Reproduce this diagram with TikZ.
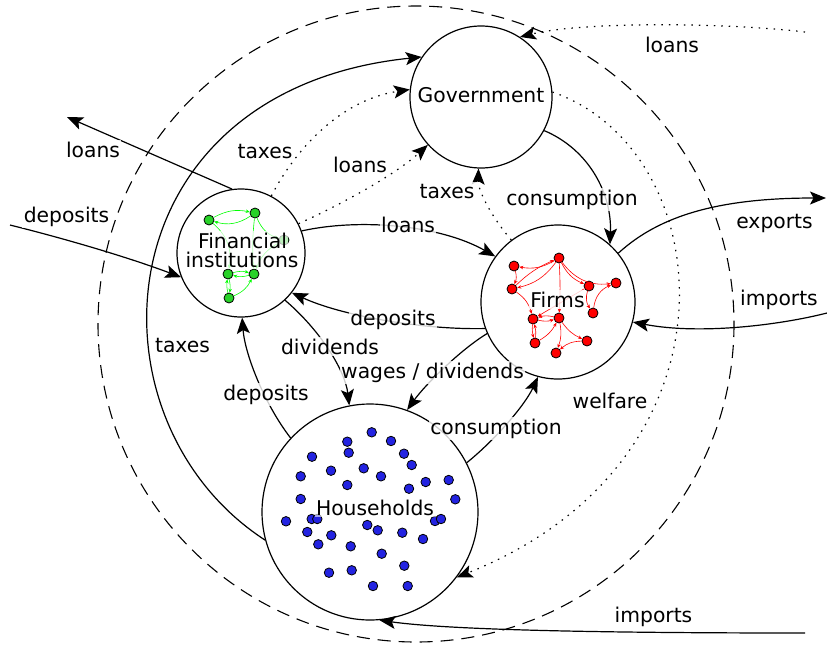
\documentclass[tikz,border=0pt]{standalone}
\usepackage{fontspec}
\setmainfont{DejaVu Sans}
\usetikzlibrary{arrows.meta}
\begin{document}
\begin{tikzpicture}[x=1pt,y=-1pt,
  every node/.style={font=\fontsize{20.3}{19}\selectfont},
  agent/.style={circle,draw,line width=1.2pt,inner sep=0pt,minimum size=#1},
  flow/.style={line width=1.2pt,-{Stealth[length=16pt,width=13pt,inset=3.5pt]}},
  dotflow/.style={flow,dash pattern=on 1.5pt off 6pt},
  lbl/.style={anchor=base,fill=white,fill opacity=0.8,text opacity=1,inner sep=1.5pt},
  hdot/.style={circle,draw=black,line width=0.8pt,fill={rgb,255:red,35;green,35;blue,225},inner sep=0pt,minimum size=9.5pt},
  rdot/.style={circle,draw=black,line width=0.8pt,fill=red,inner sep=0pt,minimum size=10pt},
  gdot/.style={circle,draw=black,line width=0.8pt,fill={rgb,255:red,40;green,210;blue,40},inner sep=0pt,minimum size=10pt},
  redge/.style={red,line width=0.6pt,-{Stealth[length=4pt,width=3.5pt]}},
  gedge/.style={green,line width=0.6pt,-{Stealth[length=4pt,width=3.5pt]}}
]
\useasboundingbox (0,0) rectangle (827,646);

% environment boundary
\draw[line width=1.1pt,dash pattern=on 13pt off 8pt] (416,324) circle[radius=318];

% agents
\node[agent=142pt] (gov) at (481,97) {};
\node[agent=128pt] (fin) at (241,253) {};
\node[agent=154pt] (firms) at (558,302) {};
\node[agent=216pt] (hh) at (370,512) {};

% free ends
\coordinate (loansL) at (67,117);
\coordinate (depL) at (10,225);
\coordinate (exportsE) at (826,198);
\coordinate (importsS) at (827,313);
\coordinate (loansTR) at (805,32);
\coordinate (importsB) at (805,633);

% green network (financial institutions)
\node[gdot] (g1) at (209,220) {};
\node[gdot] (g2) at (255,213) {};
\node[gdot] (g3) at (284,240) {};
\node[gdot] (g5) at (228,274) {};
\node[gdot] (g6) at (254,274) {};
\node[gdot] (g7) at (229,298) {};
\draw[gedge] (g2) to[bend left=25] (g1);
\draw[gedge] (g1) to[bend left=20] (g2);
\draw[gedge] (g2) to[bend right=25] (g3);
\draw[gedge] (g2) to[bend right=5] (g6);
\draw[gedge] (g3) to[bend right=20] (g6);
\draw[gedge] (g1) to[bend left=30] (g5);
\draw[gedge] (g5) to[bend left=15] (g6);
\draw[gedge] (g6) to[bend left=15] (g5);
\draw[gedge] (g7) to[bend left=10] (g5);
\draw[gedge] (g5) to[bend left=10] (g7);
\draw[gedge] (g7) to[bend right=20] (g6);

% red network (firms)
\node[rdot] (r1) at (514,266) {};
\node[rdot] (r2) at (559,258) {};
\node[rdot] (r3) at (512,289) {};
\node[rdot] (r4) at (589,286) {};
\node[rdot] (r5) at (616,283) {};
\node[rdot] (r6) at (593,313) {};
\node[rdot] (r7) at (533,319) {};
\node[rdot] (r8) at (559,318) {};
\node[rdot] (r9) at (535,343) {};
\node[rdot] (r10) at (587,341) {};
\node[rdot] (r11) at (556,353) {};
\draw[redge] (r2) to[bend left=20] (r1);
\draw[redge] (r2) to[bend left=20] (r3);
\draw[redge] (r3) to[bend left=10] (r2);
\draw[redge] (r1) to[bend left=20] (r3);
\draw[redge] (r2) to[bend right=20] (r4);
\draw[redge] (r2) to[bend right=30] (r5);
\draw[redge] (r2) to[bend left=3] (r8);
\draw[redge] (r4) to[bend right=25] (r6);
\draw[redge] (r6) to[bend left=30] (r5);
\draw[redge] (r3) to[bend left=20] (r7);
\draw[redge] (r4) to (r7);
\draw[redge] (r7) to[bend right=15] (r8);
\draw[redge] (r8) to[bend right=15] (r7);
\draw[redge] (r7) to[bend right=10] (r9);
\draw[redge] (r9) to[bend right=10] (r7);
\draw[redge] (r9) to[bend right=15] (r8);
\draw[redge] (r8) to[bend right=15] (r10);
\draw[redge] (r8) to[bend left=15] (r11);
\draw[redge] (r10) to[bend right=20] (r11);

% households
\foreach \p [count=\i] in {(371.7,432.3),(347.3,441.7),(391,441),(348.7,452.7),(404,453.7),(312,456.7),(411.7,465),(331,470.7),(363.7,468.3),(381,476.3),(300.7,476.3),(347.3,485),(409,488.7),(425.7,482),(448.7,480),(300.7,499),(455.3,499.3),(286,521.3),(311.7,519),(317.3,519),(435,521),(441,519),(367.3,525),(377.7,530.3),(402.3,532.7),(423,539),(307.3,532),(331.3,535.3),(318.3,544.3),(350.7,546.3),(381.7,553.7),(404.3,565.7),(329,572.7),(351.7,570.3),(373,586),(407.7,586)}
  \node[hdot] (h\i) at \p {};

% flows
\draw[flow] (fin.98) -- (loansL);
\draw[flow] (depL) .. controls (70,240) and (130,258) .. (fin.202);
\draw[flow] (hh.195) .. controls (80,420) and (100,90) .. (gov.146);
\draw[flow] (gov.332) .. controls (590,150) and (612,195) .. (firms.48);
\draw[flow] (firms.39) .. controls (660,215) and (720,198) .. (exportsE);
\draw[flow] (importsS) .. controls (780,325) and (700,335) .. (firms.345);
\draw[flow] (fin.20) .. controls (360,218) and (440,225) .. (firms.144);
\draw[flow] (firms.200) .. controls (420,330) and (340,315) .. (fin.322);
\draw[flow] (fin.313) .. controls (320,330) and (345,370) .. (hh.101);
\draw[flow] (firms.204) .. controls (460,350) and (425,385) .. (hh.70);
\draw[flow] (hh.27) .. controls (495,440) and (525,405) .. (firms.255);
\draw[flow] (hh.137) .. controls (265,405) and (245,355) .. (fin.271);
\draw[flow] (importsB) .. controls (600,633) and (450,630) .. (hh.275);
\draw[dotflow] (fin.62) .. controls (295,150) and (340,100) .. (gov.174);
\draw[dotflow] (fin.27) .. controls (340,205) and (395,175) .. (gov.222);
\draw[dotflow] (firms.127) .. controls (490,215) and (478,190) .. (gov.268);
\draw[dotflow] (gov.4) .. controls (720,150) and (750,460) .. (hh.323);
\draw[dotflow] (loansTR) .. controls (720,22) and (580,22) .. (gov.57);

% labels
\node[lbl] (tGov) at (481,102) {Government};
\node[lbl,fill opacity=0.7] (tFin1) at (242.5,248) {Financial};
\node[lbl,fill opacity=0.7] (tFin2) at (242,267) {institutions};
\node[lbl] (tFirms) at (557.5,307) {Firms};
\node[lbl,fill opacity=0.6] (tHH) at (375,515) {Households};

\node[lbl] (l1) at (672,52) {loans};
\node[lbl] (l2) at (93,157) {loans};
\node[lbl] (l3) at (265,158) {taxes};
\node[lbl] (l4) at (360,172) {loans};
\node[lbl] (l5) at (66.5,222) {deposits};
\node[lbl] (l6) at (447,198) {taxes};
\node[lbl] (l7) at (572,205) {consumption};
\node[lbl] (l8) at (408,232) {loans};
\node[lbl] (l9) at (774.5,228) {exports};
\node[lbl] (l10) at (779,305) {imports};
\node[lbl] (l11) at (393,325) {deposits};
\node[lbl] (l12) at (182.5,352) {taxes};
\node[lbl] (l13) at (330,354) {dividends};
\node[lbl] (l14) at (432.5,378) {wages / dividends};
\node[lbl] (l15) at (266,400) {deposits};
\node[lbl] (l16) at (610,408) {welfare};
\node[lbl] (l17) at (496,434) {consumption};
\node[lbl] (l18) at (653.5,622) {imports};
\end{tikzpicture}
\end{document}
